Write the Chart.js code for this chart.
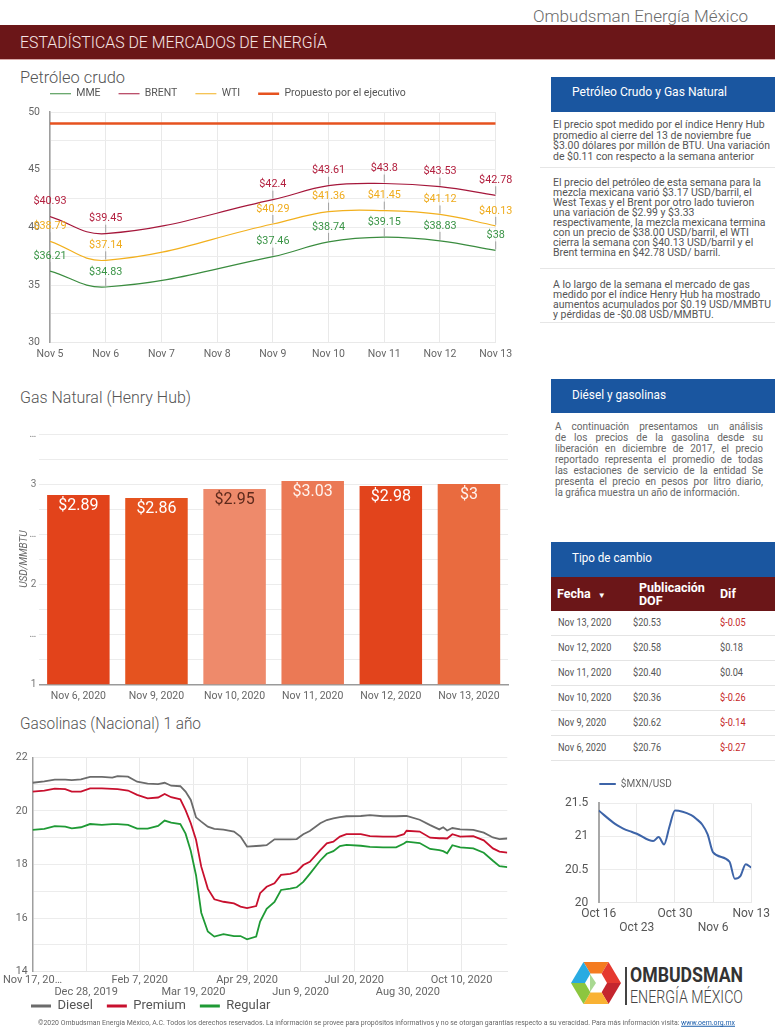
<!DOCTYPE html>
<html><head><meta charset="utf-8">
<script src="https://cdn.jsdelivr.net/npm/chart.js@4.4.0/dist/chart.umd.min.js"></script>
<style>
html,body{margin:0;padding:0;background:#fff;}
body{width:775px;height:1033px;position:relative;overflow:hidden;font-family:Roboto,"Noto Sans",sans-serif;}
.abs{position:absolute;}
.t{position:absolute;white-space:nowrap;line-height:1;transform-origin:0 50%;transform:translateY(-50%);}
.sec{font-size:17px;font-weight:300;color:#555;}
.blue{position:absolute;left:551px;width:224px;background:#1a56a0;}
.hd{font-size:13px;color:#fff;}
.par{font-size:11.3px;color:#555;}
.sep{position:absolute;left:540px;width:235px;height:1px;background:#e6e6e6;}
.dl{position:absolute;left:555px;width:208px;font-size:10px;color:#666;line-height:1;transform:translateY(-50%);text-align:justify;text-align-last:justify;white-space:nowrap;}
.tc{font-size:10.5px;color:#555;}
.neg{color:#c62828;}
.th{font-size:12.5px;font-weight:700;color:#fff;}
.rs{position:absolute;left:551px;width:224px;height:1px;background:#e4e4e4;}
.box{position:absolute;}
</style></head>
<body>
<script>
// ---------- DATA ----------
const oilDays = [5, 6, 9, 10, 11, 12, 13];
const oilTickLabels = ['Nov 5','Nov 6','Nov 7','Nov 8','Nov 9','Nov 10','Nov 11','Nov 12','Nov 13'];
const mme = [36.21, 34.83, 37.46, 38.74, 39.15, 38.83, 38.00];
const brent = [40.93, 39.45, 42.40, 43.61, 43.80, 43.53, 42.78];
const wti = [38.79, 37.14, 40.29, 41.36, 41.45, 41.12, 40.13];
const propuesto = [49, 49, 49, 49, 49, 49, 49];

const gasDates = ['Nov 6, 2020','Nov 9, 2020','Nov 10, 2020','Nov 11, 2020','Nov 12, 2020','Nov 13, 2020'];
const gasVals = [2.89, 2.86, 2.95, 3.03, 2.98, 3.00];

const gasolinaDays = [0,9,17,25,30,37,44,53,61,65,73,80,88,96,101,106,113,117,121,125,129,134,139,146,154,159,164,171,174,179,185,190,197,202,207,212,220,225,230,235,240,251,258,268,278,284,286,296,304,311,314,317,321,327,337,345,352,357,363];
const diesel = [21.05,21.1,21.17,21.17,21.15,21.18,21.27,21.27,21.24,21.3,21.28,21.09,21.02,21.0,21.05,20.94,20.92,20.72,20.41,19.76,19.6,19.41,19.33,19.3,19.23,19.04,18.67,18.69,18.7,18.72,18.94,18.94,18.94,18.95,19.13,19.25,19.54,19.66,19.72,19.77,19.8,19.81,19.84,19.8,19.8,19.81,19.81,19.67,19.47,19.31,19.39,19.27,19.36,19.31,19.29,19.19,19.01,18.95,18.97];
const premium = [20.72,20.76,20.83,20.81,20.72,20.72,20.84,20.84,20.82,20.81,20.76,20.6,20.47,20.5,20.63,20.51,20.43,20.03,19.54,18.92,17.92,17.1,16.7,16.61,16.55,16.43,16.37,16.45,16.93,17.17,17.3,17.61,17.65,17.73,17.98,18.1,18.54,18.79,18.85,19.04,19.13,19.13,19.06,19.04,19.04,19.13,19.26,19.23,19.0,18.98,18.98,18.97,19.13,19.04,19.06,18.9,18.6,18.48,18.44];
const regular = [19.29,19.33,19.43,19.41,19.35,19.39,19.51,19.48,19.51,19.51,19.48,19.34,19.34,19.44,19.64,19.56,19.51,19.15,18.5,17.6,16.2,15.5,15.31,15.4,15.33,15.33,15.21,15.31,15.87,16.35,16.6,17.05,17.1,17.15,17.35,17.65,18.15,18.4,18.5,18.69,18.73,18.7,18.66,18.64,18.64,18.78,18.85,18.8,18.58,18.54,18.5,18.42,18.72,18.64,18.6,18.44,18.14,17.94,17.9];
const gasolinaTickDays = [0,41,82,123,164,205,246,287,328];
const gasolinaTickLabels = ['Nov 17, 20…','Dec 28, 2019','Feb 7, 2020','Mar 19, 2020','Apr 29, 2020','Jun 9, 2020','Jul 20, 2020','Aug 30, 2020','Oct 10, 2020'];

const mxnDays = [0,3,4,5,6,7,10,11,12,13,14,17,18,19,20,21,24,25,26,27,28];
const mxnRate = [21.39,21.19,21.14,21.10,21.07,21.04,20.93,20.99,20.88,21.15,21.39,21.32,21.26,21.18,21.03,20.76,20.62,20.36,20.40,20.58,20.53];
const mxnTickDays = [0,7,14,21,28];
const mxnTickLabels = ['Oct 16','Oct 23','Oct 30','Nov 6','Nov 13'];

const fxDates = ['Nov 13, 2020','Nov 12, 2020','Nov 11, 2020','Nov 10, 2020','Nov 9, 2020','Nov 6, 2020'];
const fxDof = ['$20.53','$20.58','$20.40','$20.36','$20.62','$20.76'];
const fxDif = ['$-0.05','$0.18','$0.04','$-0.26','$-0.14','$-0.27'];
</script>

<!-- header -->
<div class="t" data-w="215" style="left:533px;top:17px;font-size:16px;font-weight:300;color:#6a6a6a;">Ombudsman Energía México</div>
<div class="box" style="left:0;top:25px;width:775px;height:34px;background:#6b1618;"></div>
<div class="box" style="left:0;top:59px;width:775px;height:1px;background:#d9a9a9;"></div>
<div class="t" data-w="307" style="left:20px;top:42px;font-size:17px;font-weight:300;color:#f6e6e6;">ESTADÍSTICAS DE MERCADOS DE ENERGÍA</div>

<!-- section titles -->
<div class="t sec" data-w="105" style="left:20px;top:77px;">Petróleo crudo</div>
<div class="t sec" data-w="171" style="left:20px;top:397px;">Gas Natural (Henry Hub)</div>
<div class="t sec" data-w="181" style="left:20px;top:723px;">Gasolinas (Nacional) 1 año</div>

<!-- charts -->
<div class="box" style="left:0;top:69px;width:540px;height:298px;"><canvas id="oil"></canvas></div>
<div class="box" style="left:0;top:425px;width:530px;height:285px;"><canvas id="gas"></canvas></div>
<div class="box" style="left:0;top:745px;width:530px;height:285px;"><canvas id="gasolina"></canvas></div>
<div class="box" style="left:548px;top:770px;width:227px;height:165px;"><canvas id="mxn"></canvas></div>

<!-- right panel 1 -->
<div class="blue" style="top:77px;height:35px;"></div>
<div class="t hd" data-w="155" style="left:572px;top:91px;">Petróleo Crudo y Gas Natural</div>
<div class="t par" data-g="p" style="left:553px;top:125px;">El precio spot medido por el índice Henry Hub</div>
<div class="t par" data-g="p" style="left:553px;top:135.5px;">promedio al cierre del 13 de noviembre fue</div>
<div class="t par" data-g="p" data-w="217" style="left:553px;top:146px;">$3.00 dólares por millón de BTU. Una variación</div>
<div class="t par" data-g="p" style="left:553px;top:156.5px;">de $0.11 con respecto a la semana anterior</div>
<div class="sep" style="top:167px;"></div>
<div class="t par" data-g="p" style="left:553px;top:183.3px;">El precio del petróleo de esta semana para la</div>
<div class="t par" data-g="p" style="left:553px;top:193.2px;">mezcla mexicana varió $3.17 USD/barril, el</div>
<div class="t par" data-g="p" style="left:553px;top:203.1px;">West Texas y el Brent por otro lado tuvieron</div>
<div class="t par" data-g="p" style="left:553px;top:213px;">una variación de $2.99 y $3.33</div>
<div class="t par" data-g="p" style="left:553px;top:222.9px;">respectivamente, la mezcla mexicana termina</div>
<div class="t par" data-g="p" style="left:553px;top:232.8px;">con un precio de $38.00 USD/barril, el WTI</div>
<div class="t par" data-g="p" style="left:553px;top:242.7px;">cierra la semana con $40.13 USD/barril y el</div>
<div class="t par" data-g="p" style="left:553px;top:252.6px;">Brent termina en $42.78 USD/ barril.</div>
<div class="sep" style="top:268px;"></div>
<div class="t par" data-g="p" style="left:553px;top:285.3px;">A lo largo de la semana el mercado de gas</div>
<div class="t par" data-g="p" style="left:553px;top:295.2px;">medido por el índice Henry Hub ha mostrado</div>
<div class="t par" data-g="p" style="left:553px;top:305.1px;">aumentos acumulados por $0.19 USD/MMBTU</div>
<div class="t par" data-g="p" style="left:553px;top:315px;">y pérdidas de -$0.08 USD/MMBTU.</div>
<div class="sep" style="top:322px;"></div>

<!-- right panel 2 -->
<div class="blue" style="top:379px;height:34px;"></div>
<div class="t hd" data-w="94" style="left:572px;top:393.5px;">Diésel y gasolinas</div>
<div class="dl" style="top:427.3px;">A continuación presentamos un análisis</div>
<div class="dl" style="top:438.3px;">de los precios de la gasolina desde su</div>
<div class="dl" style="top:449.2px;">liberación en diciembre de 2017, el precio</div>
<div class="dl" style="top:460.2px;">reportado representa el promedio de todas</div>
<div class="dl" style="top:471.1px;">las estaciones de servicio de la entidad Se</div>
<div class="dl" style="top:482.1px;">presenta el precio en pesos por litro diario,</div>
<div class="dl" style="top:493px;text-align-last:left;">la gráfica muestra un año de información.</div>

<!-- tipo de cambio -->
<div class="blue" style="top:542px;height:35px;"></div>
<div class="t hd" data-w="80" style="left:572px;top:557px;">Tipo de cambio</div>
<div class="box" style="left:551px;top:577px;width:224px;height:34px;background:#6b1618;"></div>
<div class="t th" style="left:557px;top:594px;">Fecha <span style="font-size:8px;font-weight:400;margin-left:4px;">▼</span></div>
<div class="t th" style="left:639px;top:588.3px;">Publicación</div>
<div class="t th" style="left:639px;top:600.5px;">DOF</div>
<div class="t th" style="left:720px;top:594px;">Dif</div>
<div id="fxrows"></div>

<!-- logo -->
<svg class="abs" style="left:568px;top:960px" width="56" height="46" viewBox="0 0 56 46">
  <polygon points="28,23 15.5,2 40.5,2" fill="#f47b20"/>
  <polygon points="28,23 40.5,2 53,23" fill="#e5392f"/>
  <polygon points="28,23 53,23 40.5,44" fill="#c4262e"/>
  <polygon points="28,23 40.5,44 15.5,44" fill="#f9b233"/>
  <polygon points="28,23 15.5,44 3,23" fill="#8cc63f"/>
  <polygon points="28,23 3,23 15.5,2" fill="#29abe2"/>
  <polygon points="39,23 33.5,13.5 22.5,13.5 17,23 22.5,32.5 33.5,32.5" fill="#fff"/>
  <polygon points="22,14 28,23 22,32" fill="#6fbf4a" opacity="0.6"/>
</svg>
<div class="box" style="left:625px;top:967px;width:1.5px;height:38px;background:#444;"></div>
<div class="t" data-w="113" style="left:630px;top:975px;font-size:21px;font-weight:700;color:#333;">OMBUDSMAN</div>
<div class="t" data-w="113" style="left:630px;top:997px;font-size:18px;font-weight:300;color:#444;">ENERGÍA MÉXICO</div>

<!-- footer -->
<div class="t" data-w="697" style="left:38px;top:1023px;font-size:6.5px;color:#666;">©2020 Ombudsman Energía México, A.C. Todos los derechos reservados. La información se provee para propósitos informativos y no se otorgan garantías respecto a su veracidad. Para más información visita: <span style="color:#1a5dab;text-decoration:underline;">www.oem.org.mx</span></div>

<script>
// table rows
(function(){
  const host = document.getElementById('fxrows');
  let html = '';
  fxDates.forEach((d, i) => {
    const cy = 622.7 + i * 25;
    const neg = fxDif[i].indexOf('-') >= 0;
    html += `<div class="t tc" data-g="tbl" ${i===0?'data-w="53.4"':''} style="left:558px;top:${cy}px;">${d}</div>`;
    html += `<div class="t tc" data-g="tbl" style="left:633px;top:${cy}px;">${fxDof[i]}</div>`;
    html += `<div class="t tc ${neg?'neg':''}" data-g="tbl" style="left:720px;top:${cy}px;">${fxDif[i]}</div>`;
    html += `<div class="rs" style="top:${635 + i*25}px;"></div>`;
  });
  host.innerHTML = html;
})();

// fit text widths
(function(){
  const groups = {};
  const els = Array.from(document.querySelectorAll('.t'));
  els.forEach(el => {
    if (el.dataset.w) {
      const w = el.getBoundingClientRect().width;
      const f = (+el.dataset.w) / w;
      el.style.transform = `translateY(-50%) scaleX(${f})`;
      if (el.dataset.g) groups[el.dataset.g] = f;
    }
  });
  els.forEach(el => {
    if (!el.dataset.w && el.dataset.g && groups[el.dataset.g]) {
      el.style.transform = `translateY(-50%) scaleX(${groups[el.dataset.g]})`;
    }
  });
})();

// ---------- CHARTS ----------
Chart.defaults.font.family = "Roboto, 'Noto Sans', sans-serif";
Chart.defaults.color = '#666';
Chart.defaults.animation = false;
Chart.defaults.responsive = true;
Chart.defaults.maintainAspectRatio = false;
Chart.defaults.plugins.tooltip.enabled = false;

const toXY = (xs, ys) => xs.map((x, i) => ({x: x, y: ys[i]}));

// force legend box height and shift its drawing
function fixLegend(h, dx, dy) {
  return {
    id: 'fixLegend',
    beforeInit(chart) {
      const lg = chart.legend;
      if (!lg) return;
      const f = lg.fit;
      lg.fit = function () { f.call(this); this.height = h; };
      const d = lg._draw;
      lg._draw = function () {
        const l = this.left, r = this.right, t = this.top, b = this.bottom;
        this.left += dx; this.right += dx; this.top += dy; this.bottom += dy;
        d.call(this);
        this.left = l; this.right = r; this.top = t; this.bottom = b;
      };
    }
  };
}

const oilLabels = {
  id: 'oilLabels',
  afterDatasetsDraw(chart) {
    const ctx = chart.ctx;
    chart.data.datasets.forEach((ds, i) => {
      if (!ds.labelColor) return;
      const meta = chart.getDatasetMeta(i);
      meta.data.forEach((pt, j) => {
        const v = ds.data[j].y;
        ctx.save();
        ctx.strokeStyle = '#a0a0a0';
        ctx.lineWidth = 1;
        ctx.beginPath();
        ctx.moveTo(pt.x, pt.y - 1);
        ctx.lineTo(pt.x, pt.y - 9);
        ctx.stroke();
        ctx.fillStyle = ds.labelColor;
        ctx.font = "10.8px Roboto, 'Noto Sans', sans-serif";
        ctx.textAlign = 'center';
        ctx.textBaseline = 'middle';
        ctx.fillText('$' + v, pt.x, pt.y - 15);
        ctx.restore();
      });
    });
  }
};

new Chart(document.getElementById('oil'), {
  type: 'line',
  data: {
    datasets: [
      {label: 'MME', data: toXY(oilDays, mme), borderColor: '#3a8c3f', borderWidth: 1.2, labelColor: '#3a9446'},
      {label: 'BRENT', data: toXY(oilDays, brent), borderColor: '#a5173b', borderWidth: 1.2, labelColor: '#b3203f'},
      {label: 'WTI', data: toXY(oilDays, wti), borderColor: '#f2b01e', borderWidth: 1.2, labelColor: '#efab1c'},
      {label: 'Propuesto por el ejecutivo', data: toXY(oilDays, propuesto), borderColor: '#e6521f', borderWidth: 2.5, tension: 0}
    ]
  },
  options: {
    layout: {padding: {left: 0, right: 44.3, top: 0, bottom: 0}},
    elements: {point: {radius: 0}, line: {tension: 0.4, fill: false}},
    scales: {
      x: {
        type: 'linear', min: 5, max: 13,
        afterFit: s => { s.height = 24.3; },
        ticks: {stepSize: 1, autoSkip: false, maxRotation: 0, padding: 5, font: {size: 10.5}, color: '#666',
                callback: v => oilTickLabels[v - 5]},
        grid: {color: '#e9e9e9', drawTicks: false},
        border: {color: '#e9e9e9'}
      },
      y: {
        min: 30, max: 50,
        afterFit: s => { s.width = 50; },
        ticks: {stepSize: 2.5, padding: 10, font: {size: 10.5}, color: '#666', callback: v => (v % 5 === 0 ? v : '')},
        grid: {color: '#ececec', drawTicks: false},
        border: {color: '#9e9e9e', width: 1.5}
      }
    },
    plugins: {
      legend: {position: 'top', align: 'start',
        labels: {usePointStyle: true, pointStyle: 'line', pointStyleWidth: 21, padding: 18, font: {size: 10.5}, color: '#555'}}
    }
  },
  plugins: [fixLegend(43, 32, 1.5), oilLabels]
});

const barLabels = {
  id: 'barLabels',
  afterDatasetsDraw(chart) {
    const ctx = chart.ctx;
    const ds = chart.data.datasets[0];
    chart.getDatasetMeta(0).data.forEach((b, i) => {
      ctx.save();
      ctx.fillStyle = ds.labelColors[i];
      ctx.font = "16px Roboto, 'Noto Sans', sans-serif";
      ctx.textAlign = 'center';
      ctx.textBaseline = 'middle';
      ctx.fillText('$' + ds.data[i], b.x, b.y + 10.5);
      ctx.restore();
    });
  }
};

new Chart(document.getElementById('gas'), {
  type: 'bar',
  data: {
    labels: gasDates,
    datasets: [{
      label: 'Henry Hub', data: gasVals,
      backgroundColor: ['#e2431b', '#e5531f', '#ee8a6b', '#eb7955', '#e2441c', '#e96b3f'],
      labelColors: ['#ffffff', '#ffffff', '#5e2a1c', '#fff3ee', '#ffffff', '#fff3ee'],
      barPercentage: 0.8, categoryPercentage: 1
    }]
  },
  options: {
    layout: {padding: {left: 0, right: 22, top: 7.3, bottom: 0}},
    scales: {
      x: {
        afterFit: s => { s.height = 25.7; },
        grid: {display: false, drawTicks: false},
        border: {color: '#9a9a9a', width: 1.5},
        ticks: {padding: 6, font: {size: 10.5}, color: '#666'}
      },
      y: {
        min: 1, max: 3.5,
        afterFit: s => { s.width = 39.3; },
        ticks: {stepSize: 0.25, padding: 3, font: {size: 10}, color: '#777',
          callback: v => (Number.isInteger(v) ? v : (Math.abs(v * 2 - Math.round(v * 2)) < 1e-9 ? '…' : ''))},
        grid: {color: '#ececec', drawTicks: false},
        border: {display: false},
        title: {display: true, text: 'USD/MMBTU', font: {size: 10, style: 'italic'}, color: '#666', padding: {top: 18, bottom: 0}}
      }
    },
    plugins: {legend: {display: false}}
  },
  plugins: [barLabels]
});

new Chart(document.getElementById('gasolina'), {
  type: 'line',
  data: {
    datasets: [
      {label: 'Diesel', data: toXY(gasolinaDays, diesel), borderColor: '#6b6b6b'},
      {label: 'Premium', data: toXY(gasolinaDays, premium), borderColor: '#c8102e'},
      {label: 'Regular', data: toXY(gasolinaDays, regular), borderColor: '#1f9a35'}
    ]
  },
  options: {
    layout: {padding: {left: 0, right: 22.7, top: 12.3, bottom: 0}},
    elements: {point: {radius: 0}, line: {borderWidth: 1.8, tension: 0}},
    scales: {
      x: {
        type: 'linear', min: 0, max: 363,
        afterBuildTicks: s => { s.ticks = gasolinaTickDays.map(v => ({value: v})); },
        afterFit: s => { s.height = 27; },
        ticks: {autoSkip: false, maxRotation: 0, padding: 3, font: {size: 11, lineHeight: 1.05}, color: '#666',
          callback: v => { const i = gasolinaTickDays.indexOf(v); const l = gasolinaTickLabels[i]; return i % 2 ? ['', l] : l; }},
        grid: {color: '#e9e9e9', drawTicks: false},
        border: {color: '#e6e6e6'}
      },
      y: {
        min: 14, max: 22,
        afterFit: s => { s.width = 31; },
        ticks: {stepSize: 1, padding: 5, font: {size: 10.5}, color: '#666', callback: v => (v % 2 === 0 ? v : '')},
        grid: {color: '#ececec', drawTicks: false},
        border: {color: '#9e9e9e', width: 1.5}
      }
    },
    plugins: {
      legend: {position: 'bottom', align: 'start',
        labels: {usePointStyle: true, pointStyle: 'line', pointStyleWidth: 20, padding: 14, font: {size: 13}, color: '#555',
          generateLabels: c => Chart.defaults.plugins.legend.labels.generateLabels(c).map(l => Object.assign(l, {lineWidth: 3}))}}
    }
  },
  plugins: [fixLegend(31.3, 17, -13.2)]
});

new Chart(document.getElementById('mxn'), {
  type: 'line',
  data: {
    datasets: [{label: '$MXN/USD', data: toXY(mxnDays, mxnRate), borderColor: '#3d64a8', borderWidth: 2, cubicInterpolationMode: 'monotone'}]
  },
  options: {
    layout: {padding: {left: 0, right: 22.3, top: 0, bottom: 0}},
    elements: {point: {radius: 0}},
    scales: {
      x: {
        type: 'linear', min: 0, max: 28,
        afterBuildTicks: s => { s.ticks = mxnTickDays.map(v => ({value: v})); },
        afterFit: s => { s.height = 32.3; },
        ticks: {autoSkip: false, maxRotation: 0, padding: 5, font: {size: 12, lineHeight: 1.1}, color: '#555',
          callback: v => { const i = mxnTickDays.indexOf(v); const l = mxnTickLabels[i]; return i % 2 ? ['', l] : l; }},
        grid: {color: '#e9e9e9', drawTicks: false},
        border: {color: '#e9e9e9'}
      },
      y: {
        min: 20, max: 21.5,
        afterFit: s => { s.width = 50.7; },
        ticks: {stepSize: 0.25, padding: 10.4, font: {size: 12}, color: '#555', callback: v => (Math.abs(v * 2 - Math.round(v * 2)) < 1e-9 ? v : '')},
        grid: {color: '#ececec', drawTicks: false},
        border: {color: '#a8a8a8', width: 2}
      }
    },
    plugins: {
      legend: {position: 'top', align: 'start',
        labels: {usePointStyle: true, pointStyle: 'line', pointStyleWidth: 16.5, padding: 9, font: {size: 10}, color: '#666'}}
    }
  },
  plugins: [fixLegend(33.3, 42.3, 0)]
});
</script>
</body></html>
